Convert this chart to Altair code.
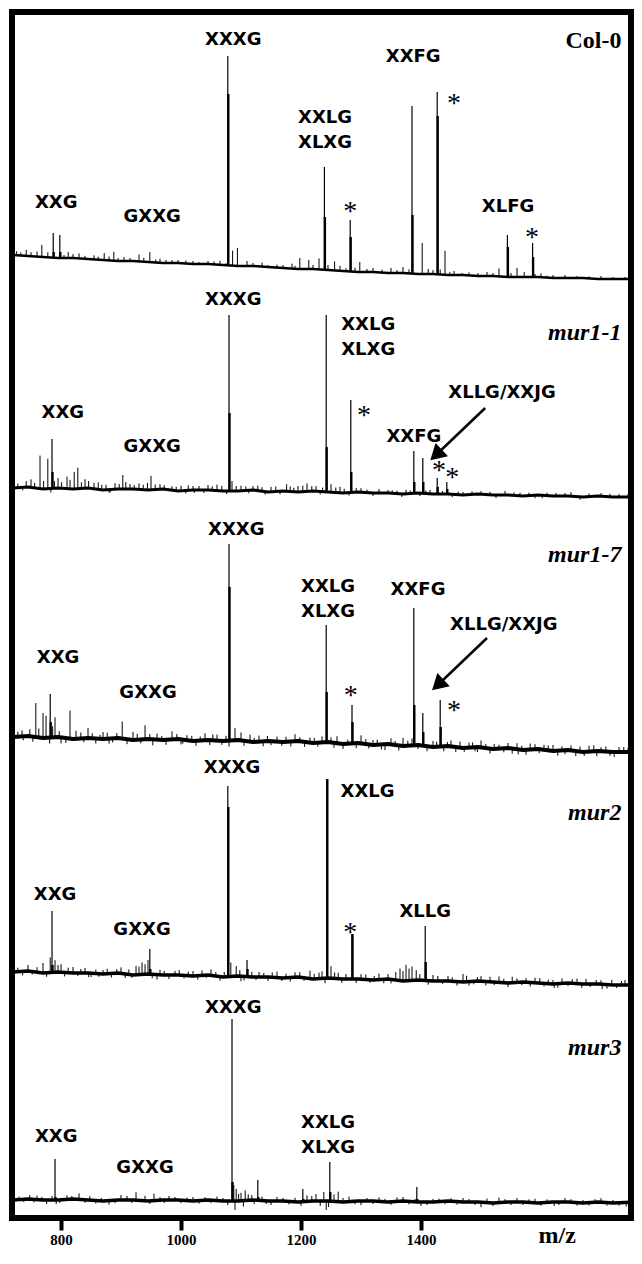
import altair as alt
import pandas as pd
import numpy as np

# ---------------- data ----------------
spectra = ["Col-0", "mur1-1", "mur1-7", "mur2", "mur3"]

grid_mz = [720, 745, 770, 795, 820, 845, 870, 895, 920, 945, 970, 995, 1020, 1045,
           1070, 1095, 1120, 1145, 1170, 1195, 1220, 1245, 1270, 1295, 1320, 1345,
           1370, 1395, 1420, 1445, 1470, 1495, 1520, 1545, 1570, 1595, 1620, 1645,
           1670, 1695, 1720, 1765]

# baseline level of each stacked trace (offset intensity units)
base_col0 = [972, 971, 970, 969, 969, 968, 967, 966, 966, 965, 964, 964, 963, 963,
             962, 961, 961, 960, 959, 958, 958, 957, 956, 955, 955, 954, 954, 953,
             953, 952, 952, 951, 951, 950, 950, 950, 949, 949, 949, 948, 948, 948]
base_mur11 = [739, 740, 738, 739, 738, 739, 737, 738, 738, 737, 738, 736, 737, 737,
              736, 736, 737, 735, 736, 735, 736, 735, 734, 735, 734, 734, 733, 734,
              733, 733, 732, 733, 732, 732, 731, 732, 731, 731, 730, 731, 730, 730]
base_mur17 = [490, 491, 489, 490, 488, 489, 488, 489, 487, 488, 487, 488, 486, 487,
              486, 487, 485, 486, 485, 486, 484, 485, 483, 484, 482, 483, 481, 482,
              480, 481, 479, 480, 478, 479, 477, 478, 476, 477, 475, 476, 475, 475]
base_mur2 = [255, 256, 254, 255, 254, 254, 253, 254, 252, 253, 252, 252, 251, 252,
             250, 251, 250, 250, 249, 250, 248, 249, 248, 248, 247, 248, 246, 247,
             246, 246, 245, 246, 245, 244, 245, 244, 243, 244, 243, 243, 242, 242]
base_mur3 = [27, 28, 27, 27, 28, 27, 26, 27, 27, 26, 27, 27, 26, 27,
             26, 26, 27, 26, 26, 25, 26, 26, 25, 26, 26, 25, 26, 25,
             25, 26, 25, 25, 24, 25, 25, 24, 25, 25, 24, 25, 24, 25]
baselines = [base_col0, base_mur11, base_mur17, base_mur2, base_mur3]
trace_width = [2.5, 3, 4, 3.5, 3.5]

# major peaks: m/z, apex level, level reached by the broad lower part
peak_mz = {
    "Col-0": [1078, 1239, 1282, 1385, 1427, 1544, 1586, 787, 798],
    "mur1-1": [1080, 1242, 1283, 1388, 1403, 1427, 1443, 785],
    "mur1-7": [1080, 1242, 1285, 1388, 1403, 1432, 782],
    "mur2": [1078, 1243, 1285, 1407, 785, 948, 1110],
    "mur3": [1085, 1248, 790, 1128, 1393, 1203],
}
peak_top = {
    "Col-0": [1171, 1060, 1007, 1121, 1135, 992, 984, 994, 992],
    "mur1-1": [912, 912, 827, 776, 769, 749, 745, 788],
    "mur1-7": [683, 602, 522, 619, 514, 527, 533],
    "mur2": [441, 448, 293, 301, 316, 278, 267],
    "mur3": [208, 65, 68, 47, 40, 38],
}
peak_body = {
    "Col-0": [1133, 1010, 990, 1012, 1111, 980, 970, 975, 975],
    "mur1-1": [814, 780, 755, 745, 745, 740, 738, 755],
    "mur1-7": [640, 535, 505, 522, 495, 500, 505],
    "mur2": [420, 448, 293, 265, 262, 258, 258],
    "mur3": [45, 35, 30, 30, 28, 28],
}

# small peaks / noise: m/z and height above (or below) the trace
noise_mz = {
    "Col-0": [742, 760, 768, 812, 830, 855, 872, 888, 905, 930, 948, 965, 985, 1020, 1045,
              1065, 1086, 1094, 1110, 1135, 1160, 1185, 1198, 1213, 1230, 1256, 1265, 1298,
              1320, 1350, 1370, 1402, 1412, 1440, 1455, 1480, 1510, 1530, 1560, 1572, 1600,
              1620, 1660, 1700, 1740],
    "mur1-1": [750, 765, 778, 795, 810, 822, 828, 840, 855, 862, 875, 890, 903, 915, 930,
               950, 965, 985, 1000, 1020, 1045, 1060, 1085, 1100, 1120, 1150, 1176, 1195,
               1210, 1225, 1250, 1265, 1300, 1330, 1360, 1375, 1415, 1470, 1500, 1540,
               1580, 1610, 1650, 1700, 1730, 1022, 1232, 1398, 1602, 880, 1140],
    "mur1-7": [758, 770, 775, 790, 815, 825, 845, 870, 902, 920, 940, 960, 985, 1010,
               1040, 1060, 1090, 1100, 1130, 1160, 1190, 1215, 1260, 1300, 1320, 1350,
               1370, 1420, 1450, 1480, 1500, 1530, 1560, 1590, 1620, 1650, 1680, 1700,
               1730, 1745, 800, 880, 1000, 1080, 1150, 1270, 1340, 1410, 1490, 1562,
               1640, 1722, 735, 1115, 1235, 1385, 1605],
    "mur2": [770, 782, 790, 800, 820, 840, 870, 900, 925, 935, 945, 965, 990, 1020,
             1050, 1083, 1092, 1130, 1160, 1190, 1215, 1230, 1250, 1262, 1300, 1330,
             1365, 1375, 1385, 1392, 1420, 1445, 1470, 1500, 1530, 1560, 1590, 1620,
             1660, 1700, 1740, 850, 960, 1100, 1240, 1350, 1480, 1622, 1702],
    "mur3": [760, 810, 830, 900, 925, 955, 980, 1020, 1060, 1088, 1092, 1100, 1107,
             1112, 1160, 1210, 1225, 1238, 1262, 1280, 1330, 1370, 1420, 1470, 1530,
             1590, 1650, 1700, 792, 880, 1090, 1150, 1242, 1300, 1400, 1500, 1622, 1742],
}
noise_h = {
    "Col-0": [6, 5, 12, 6, 5, 4, 7, 9, 4, 7, 10, 4, 3, 3, 3,
              4, 15, 18, 5, 4, 3, 5, 11, 9, 11, 9, 5, 10,
              4, 5, 6, 31, 5, 24, 4, 3, 4, 8, 9, 5, 4,
              3, 2, 3, 2],
    "mur1-1": [8, 33, 30, 10, 12, 17, 21, 9, 6, 7, 5, 6, 14, 5, 6,
               14, 5, 4, 5, 4, 5, 6, 10, 5, 4, 5, 7, 6,
               8, 5, 8, 6, 4, 4, 3, 4, 4, 3, 3, 4,
               3, 3, 4, 3, 3, -3, -3, -3, -3, -3, -3],
    "mur1-7": [34, 25, 22, 20, 28, 8, 10, 7, 17, 8, 14, 6, 8, 5,
               7, 6, 12, 8, 6, 5, 7, 5, 7, 8, 5, 6,
               8, 6, 6, 5, 7, 4, 6, 5, 6, 5, 6, 4,
               5, 4, -6, -5, -5, -6, -4, -5, -6, -5, -4, -5,
               -4, -5, 6, 7, 6, 7, 5],
    "mur2": [10, 15, 12, 8, 6, 5, 4, 6, 9, 12, 14, 5, 4, 5,
             6, 14, 10, 5, 6, 5, 8, 6, 12, 6, 5, 6,
             12, 16, 14, 10, 6, 5, 8, 5, 6, 4, 5, 4,
             5, 4, 5, -4, -5, -5, -5, -4, -4, -4, -5],
    "mur3": [4, 4, 6, 5, 8, 7, 4, 4, 4, 16, 12, 8, 10,
             6, 4, 6, 7, 9, 10, 5, 4, 4, 3, 4, 5,
             4, 3, 4, -4, -4, -9, -4, -9, -4, -4, -5, -4, -4],
}

# finer baseline jitter (m/z, signed height)
fine_mz = {
    "Col-0": [726, 733, 750, 778, 805, 820, 840, 862, 880, 895, 915, 938, 958, 975, 995,
              1008, 1030, 1055, 1075, 1120, 1145, 1170, 1190, 1220, 1245, 1275, 1290,
              1310, 1335, 1360, 1380, 1420, 1432, 1448, 1468, 1495, 1520, 1550, 1590,
              1610, 1640, 1680, 1720],
    "mur1-1": [728, 736, 742, 756, 771, 783, 789, 801, 815, 834, 846, 868, 882, 897, 908,
               922, 937, 944, 957, 972, 992, 1008, 1012, 1030, 1038, 1052, 1068, 1076,
               1092, 1108, 1113, 1128, 1135, 1158, 1165, 1182, 1188, 1203, 1218, 1236,
               1258, 1272, 1280, 1292, 1310, 1320, 1345, 1352, 1368, 1382, 1408, 1436,
               1452, 1462, 1485, 1515, 1525, 1555, 1565, 1590, 1625, 1640, 1665, 1680,
               1715, 1745],
    "mur1-7": [728, 737, 748, 753, 763, 781, 786, 797, 808, 833, 838, 852, 858, 865, 877,
               886, 893, 910, 927, 933, 948, 953, 968, 975, 993, 1003, 1018, 1025, 1032,
               1048, 1053, 1068, 1075, 1105, 1122, 1137, 1144, 1168, 1175, 1183, 1198,
               1206, 1222, 1228, 1250, 1255, 1278, 1292, 1308, 1313, 1327, 1334, 1357,
               1363, 1378, 1395, 1426, 1438, 1444, 1458, 1465, 1472, 1486, 1494, 1508,
               1515, 1522, 1538, 1545, 1552, 1568, 1575, 1582, 1597, 1612, 1628, 1635,
               1658, 1665, 1672, 1688, 1693, 1708, 1715, 1738],
    "mur2": [728, 736, 745, 752, 760, 776, 795, 806, 812, 828, 833, 846, 858, 863, 877,
             884, 893, 907, 913, 918, 930, 940, 952, 972, 980, 997, 1005, 1012, 1028,
             1035, 1042, 1058, 1065, 1072, 1098, 1105, 1118, 1125, 1138, 1145, 1152,
             1168, 1175, 1182, 1198, 1205, 1222, 1235, 1256, 1268, 1275, 1292, 1308,
             1315, 1322, 1338, 1345, 1358, 1370, 1380, 1398, 1412, 1428, 1436, 1452,
             1460, 1476, 1488, 1494, 1508, 1515, 1522, 1538, 1545, 1552, 1568, 1575,
             1582, 1598, 1605, 1612, 1628, 1635, 1645, 1652, 1668, 1675, 1682, 1692,
             1710, 1718, 1726, 1734],
    "mur3": [730, 738, 748, 755, 768, 776, 785, 798, 818, 840, 848, 858, 867, 890, 910,
             918, 940, 948, 965, 972, 990, 1000, 1010, 1030, 1040, 1050, 1070, 1078,
             1096, 1104, 1118, 1122, 1135, 1142, 1170, 1180, 1190, 1200, 1218, 1232,
             1246, 1255, 1270, 1290, 1310, 1320, 1340, 1350, 1360, 1380, 1390, 1410,
             1430, 1440, 1450, 1460, 1480, 1490, 1510, 1520, 1540, 1550, 1560, 1570,
             1580, 1600, 1610, 1630, 1640, 1660, 1670, 1680, 1690, 1710, 1720, 1730],
}
fine_h = {
    "Col-0": [4, 3, 4, 5, 3, 4, 3, 3, 4, 3, 3, 4, 3, 3, 3,
              3, 2, 3, 2, 3, 2, 3, 3, 4, 5, 3, 4,
              3, 3, 3, 4, 4, 5, 3, 2, 3, 3, 4, 3,
              2, 3, 2, 2],
    "mur1-1": [4, -3, 6, 5, 8, -4, 7, 6, 9, 6, 7, 5, -3, 5, 7,
               4, 5, 7, 5, 4, 4, -3, 5, 4, -3, 4, 5, -3,
               5, 4, -3, 5, 4, 5, -3, 5, 4, 6, 5, 4,
               5, 4, -3, 4, 3, -3, 3, 3, -3, 3, 3, 3,
               -3, 3, 3, 3, -3, 3, 3, -3, 3, 3, -3, 3,
               3, 3],
    "mur1-7": [5, -4, 7, -5, 9, -6, 11, 6, -5, 6, -4, 5, -5, 4, 6,
               -4, 5, -5, 6, -4, 5, -6, 4, -5, 5, -4, 5, -5, 4,
               -5, 6, -4, 5, -5, 4, -5, 5, -4, 5, -5, 4,
               -5, 5, -4, 5, -5, 4, -5, 5, -4, 5, -5, 4,
               -5, 5, -4, 5, -5, 4, -5, 6, -4, 5, -5, 4,
               -5, 5, -4, 5, -5, 4, -5, 6, -4, 5, -5, 4,
               -5, 5, -4, 6, -5, 5, -4, 5],
    "mur2": [4, -4, 6, -3, 5, -4, 7, -4, 5, -3, 4, -4, 4, -3, 5,
             -4, 4, -4, 5, -3, 8, 10, -4, 4, -4, 5, -3, 4, -4,
             5, -3, 4, -4, 5, 6, -4, 5, -3, 4, -4, 5,
             -3, 4, -4, 5, -3, 5, 7, 6, -4, 5, -4, 5,
             -3, 4, -4, 5, 8, 10, 12, 6, -4, 5, -3, 4,
             -4, 6, -3, 4, -4, 5, -3, 4, -4, 6, -3, 4,
             -4, 5, -3, 4, -4, 5, -3, 4, -4, 5, -3, 4,
             -4, 5, -3, 4],
    "mur3": [3, -3, 4, -3, 3, -4, 4, -3, 3, -3, 4, -3, 3, -3, 4,
             -3, 5, -3, 3, -3, 3, -3, 3, -3, 3, -3, 3, -4,
             7, -6, 5, -4, 4, -3, 3, -3, 4, -4, 5, -5,
             -6, 7, 4, -3, 3, -3, 3, -3, 4, -3, 3, -3,
             3, -3, 3, -3, 3, -3, 4, -3, 3, -3, 4, -3,
             3, -3, 3, -3, 4, -3, 3, -3, 3, -3, 3, -3],
}

# oligosaccharide labels
label_text = ["XXXG", "XXFG", "XXLG", "XLXG", "XXG", "GXXG", "XLFG",
              "XXXG", "XXLG", "XLXG", "XLLG/XXJG", "XXFG", "XXG", "GXXG",
              "XXXG", "XXLG", "XLXG", "XXFG", "XLLG/XXJG", "XXG", "GXXG",
              "XXXG", "XXLG", "XXG", "GXXG", "XLLG",
              "XXXG", "XXLG", "XLXG", "XXG", "GXXG"]
label_mz = [1087, 1387, 1240, 1240, 792, 952, 1545,
            1087, 1312, 1312, 1535, 1388, 803, 952,
            1092, 1245, 1245, 1395, 1538, 795, 945,
            1085, 1311, 790, 935, 1407,
            1087, 1245, 1245, 792, 940]
label_level = [1182, 1165, 1104, 1079, 1019, 1005, 1015,
               922, 897, 872, 829, 785, 809, 775,
               692, 635, 610, 632, 597, 564, 529,
               454, 430, 327, 292, 310,
               214, 99, 74, 85, 54]

star_mz = [1455, 1282, 1585, 1305, 1430, 1452, 1283, 1455, 1282]
star_level = [1129, 1021, 995, 817, 762, 755, 537, 522, 300]

name_level = [1179, 887, 665, 407, 172]
name_mz = 1734

arrow_tail_mz = [1507, 1510]
arrow_tail_level = [819, 589]
arrow_head_mz = [1425, 1428]
arrow_head_level = [772, 542]

tick_values = [800, 1000, 1200, 1400]
mz_domain = [718.3, 1750]
level_domain = [9, 1215]

# ---------------- tables ----------------
rows_base, rows_noise, rows_thin, rows_thick = [], [], [], []
for s, lev, w in zip(spectra, baselines, trace_width):
    for m, v in zip(grid_mz, lev):
        rows_base.append({"spectrum": s, "mz": m, "level": v, "sw": w})
    for m, h in list(zip(noise_mz[s], noise_h[s])) + list(zip(fine_mz[s], fine_h[s])):
        b = float(np.interp(m, grid_mz, lev))
        rows_noise.append({"mz": m, "y": b, "y2": b + h})
    for m, t, bd in zip(peak_mz[s], peak_top[s], peak_body[s]):
        b = float(np.interp(m, grid_mz, lev))
        rows_thin.append({"mz": m, "y": b, "y2": t})
        rows_thick.append({"mz": m + 0.8, "y": b, "y2": bd})

df_base = pd.DataFrame(rows_base)
df_noise = pd.DataFrame(rows_noise)
df_thin = pd.DataFrame(rows_thin)
df_thick = pd.DataFrame(rows_thick)
df_lab = pd.DataFrame({"text": label_text, "mz": label_mz, "level": label_level})
df_star = pd.DataFrame({"mz": star_mz, "level": star_level, "text": ["*"] * len(star_mz)})
df_name0 = pd.DataFrame({"text": [spectra[0]], "mz": [name_mz], "level": [name_level[0]]})
df_names = pd.DataFrame({"text": spectra[1:], "mz": [name_mz] * 4, "level": name_level[1:]})
df_arrow = pd.DataFrame({"mz": arrow_tail_mz, "level": arrow_tail_level,
                         "mz2": arrow_head_mz, "level2": arrow_head_level})
df_mzlab = pd.DataFrame({"text": ["m/z"], "mz": [1627], "level": [-16]})

xs = alt.Scale(domain=mz_domain, nice=False, zero=False)
ys = alt.Scale(domain=level_domain, nice=False, zero=False)
xaxis = alt.Axis(values=tick_values, format="d", tickSize=12, tickWidth=4,
                 tickColor="black", domain=False, grid=False,
                 labelFont="Liberation Serif", labelFontSize=15,
                 labelFontWeight="bold", labelColor="black",
                 labelPadding=2, title=None)


def X(field="mz"):
    return alt.X(f"{field}:Q", scale=xs, axis=xaxis)


def Y(field="level"):
    return alt.Y(f"{field}:Q", scale=ys, axis=None)


base_layer = alt.Chart(df_base).mark_line(color="black", strokeJoin="round", clip=True).encode(
    x=X(), y=Y(), detail="spectrum:N", strokeWidth=alt.StrokeWidth("sw:Q", scale=None))

noise_layer = alt.Chart(df_noise).mark_rule(color="black", strokeWidth=1).encode(
    x=X(), y=Y("y"), y2="y2:Q")
thin_layer = alt.Chart(df_thin).mark_rule(color="black", strokeWidth=1.2).encode(
    x=X(), y=Y("y"), y2="y2:Q")
thick_layer = alt.Chart(df_thick).mark_rule(color="black", strokeWidth=2.4).encode(
    x=X(), y=Y("y"), y2="y2:Q")

lab_layer = alt.Chart(df_lab).mark_text(
    font="DejaVu Sans", fontWeight="bold", fontSize=18, color="black",
    align="center", baseline="alphabetic").encode(x=X(), y=Y(), text="text:N")

star_layer = alt.Chart(df_star).mark_text(
    font="Liberation Serif", fontSize=28, color="black", align="center",
    baseline="middle", dy=6).encode(x=X(), y=Y(), text="text:N")

name0_layer = alt.Chart(df_name0).mark_text(
    font="Liberation Serif", fontWeight="bold", fontSize=24, color="black",
    align="right", baseline="alphabetic").encode(x=X(), y=Y(), text="text:N")
names_layer = alt.Chart(df_names).mark_text(
    font="Liberation Serif", fontWeight="bold", fontStyle="italic", fontSize=24,
    color="black", align="right", baseline="alphabetic").encode(x=X(), y=Y(), text="text:N")

arrow_line = alt.Chart(df_arrow).mark_rule(color="black", strokeWidth=2.5).encode(
    x=X(), y=Y(), x2="mz2:Q", y2="level2:Q")
arrow_head = alt.Chart(df_arrow).mark_point(
    shape="triangle-up", filled=True, color="black", opacity=1, size=330, angle=227
).encode(x=X("mz2"), y=Y("level2"))

mz_layer = alt.Chart(df_mzlab).mark_text(
    font="Liberation Serif", fontWeight="bold", fontSize=24, color="black",
    align="center", baseline="alphabetic").encode(x=X(), y=Y(), text="text:N")

chart = alt.layer(
    base_layer, noise_layer, thick_layer, thin_layer, lab_layer, star_layer,
    name0_layer, names_layer, arrow_line, arrow_head, mz_layer
).properties(
    width=619, height=1206,
    autosize=alt.AutoSizeParams(type="none"),
    padding={"left": 4, "top": 4, "right": 3, "bottom": 30},
    background="white",
).configure_view(stroke="black", strokeWidth=6)

chart.save("out.html", embed_options={"renderer": "svg", "actions": False})
